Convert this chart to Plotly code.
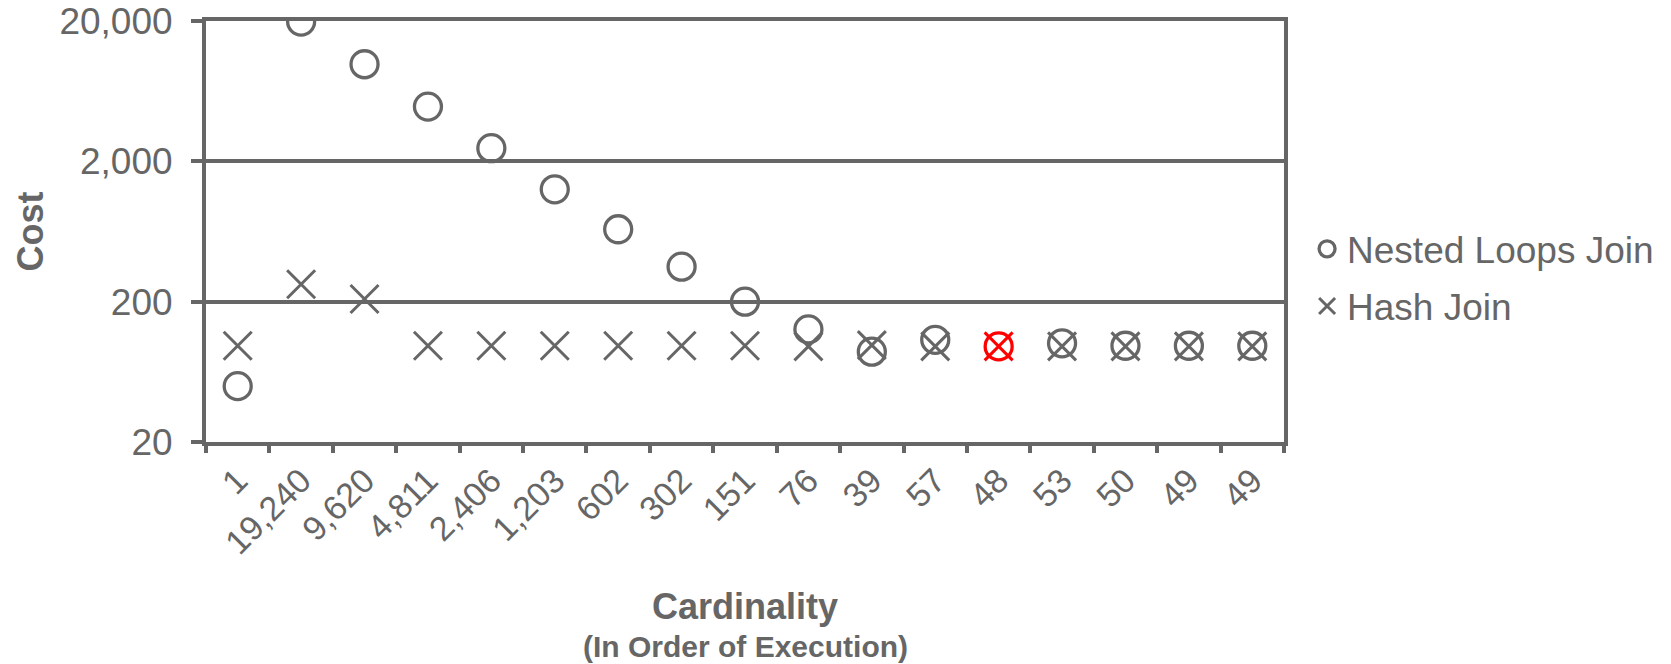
import plotly.graph_objects as go

# ---- data ----
cardinality_labels = ["1", "19,240", "9,620", "4,811", "2,406", "1,203", "602", "302",
                      "151", "76", "39", "57", "48", "53", "50", "49", "49"]
nested_loops_cost = [50, 19800, 9840, 4910, 2480, 1264, 656, 355, 200, 127, 88, 107,
                     96, 101, 97, 97, 97]
hash_join_cost = [97, 266, 209, 97, 97, 97, 97, 97, 97, 96, 98, 96, 96, 96, 96, 96, 96]
highlight_index = 12
y_tick_vals = [20, 200, 2000, 20000]
y_tick_text = ["20", "200", "2,000", "20,000"]

GREY = "#666666"
RED = "#FF0000"
FONT = "Arial, Liberation Sans, sans-serif"

n = len(cardinality_labels)
xs = list(range(n))
colors = [RED if i == highlight_index else GREY for i in xs]

fig = go.Figure()
fig.add_trace(go.Scatter(
    x=xs, y=nested_loops_cost, mode="markers", name="Nested Loops Join",
    legendgroup="a",
    marker=dict(symbol="circle-open", size=27, color=colors,
                line=dict(width=3.3, color=colors)),
))
fig.add_trace(go.Scatter(
    x=xs, y=hash_join_cost, mode="markers", name="Hash Join",
    legendgroup="b",
    marker=dict(symbol="x-thin-open", size=28, color=colors,
                line=dict(width=3, color=colors)),
))

xr = [-0.5, n - 0.5]
fig.update_layout(
    width=1671, height=664, autosize=False,
    paper_bgcolor="white", plot_bgcolor="white",
    margin=dict(l=206, r=387, t=21, b=222, autoexpand=False),
    font=dict(family=FONT, color=GREY),
    showlegend=True,
    legend=dict(x=1.0214, xanchor="left", y=0.39, yanchor="middle",
                font=dict(size=37, color=GREY, family=FONT),
                tracegroupgap=6, bgcolor="rgba(0,0,0,0)"),
    xaxis=dict(
        range=xr, tickmode="array", tickvals=xs, ticktext=cardinality_labels,
        tickangle=-45, ticks="", showgrid=False, zeroline=False,
        showline=True, linecolor=GREY, linewidth=4, mirror=True,
        tickfont=dict(size=34, color=GREY, family=FONT),
        ticklabelstandoff=1, automargin=False,
    ),
    xaxis2=dict(
        range=xr, overlaying="x", anchor="y", side="bottom",
        tickmode="array", tickvals=[i - 0.5 for i in range(n + 1)],
        showticklabels=False, ticks="outside", ticklen=10, tickwidth=3.5,
        tickcolor=GREY, showgrid=False, zeroline=False, showline=False,
        automargin=False,
    ),
    yaxis=dict(
        type="log", range=[1.30103, 4.30103],
        tickmode="array", tickvals=y_tick_vals, ticktext=y_tick_text,
        ticks="outside", ticklen=11, tickwidth=3.5, tickcolor=GREY,
        showline=True, linecolor=GREY, linewidth=4, mirror=True,
        showgrid=True, gridcolor=GREY, gridwidth=4, zeroline=False,
        tickfont=dict(size=37, color=GREY, family=FONT),
        ticklabelstandoff=11, automargin=False,
    ),
    annotations=[
        dict(text="<b>Cost</b>", xref="paper", yref="paper",
             x=(30 - 206) / 1078, y=0.5, xanchor="center", yanchor="middle",
             textangle=-90, showarrow=False,
             font=dict(size=36, color=GREY, family=FONT)),
        dict(text="<b>Cardinality</b>", xref="paper", yref="paper",
             x=0.5, y=(442 - 606) / 421, xanchor="center", yanchor="middle",
             showarrow=False, font=dict(size=36, color=GREY, family=FONT)),
        dict(text="<b>(In Order of Execution)</b>", xref="paper", yref="paper",
             x=0.5, y=(442 - 646) / 421, xanchor="center", yanchor="middle",
             showarrow=False, font=dict(size=30, color=GREY, family=FONT)),
    ],
)
# dummy trace on xaxis2 so the boundary ticks render
fig.add_trace(go.Scatter(x=[None], y=[None], xaxis="x2", showlegend=False,
                         hoverinfo="skip"))

fig.write_html(
    "out.html",
    config={"displayModeBar": False},
    post_script="document.body.style.margin='0';document.body.style.overflow='hidden';",
)
